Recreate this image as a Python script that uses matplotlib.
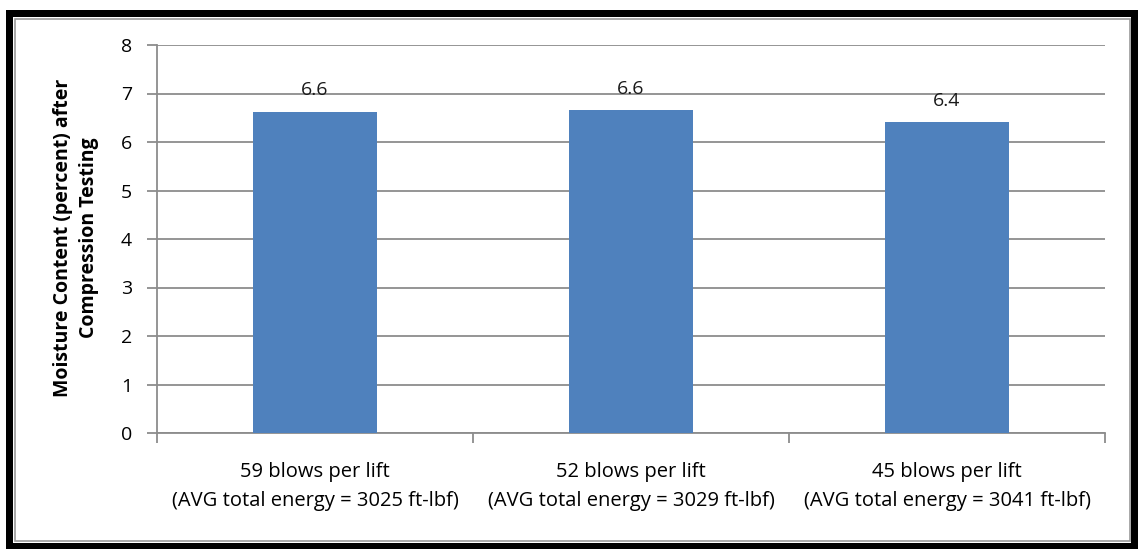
import matplotlib
matplotlib.use("Agg")
import matplotlib.pyplot as plt
from matplotlib.patches import Rectangle

# chart data
categories = ["59 blows per lift\n(AVG total energy = 3025 ft-lbf)",
              "52 blows per lift\n(AVG total energy = 3029 ft-lbf)",
              "45 blows per lift\n(AVG total energy = 3041 ft-lbf)"]
moisture = [6.62, 6.65, 6.41]
labels = ["6.6", "6.6", "6.4"]
y_ticks = [0, 1, 2, 3, 4, 5, 6, 7, 8]

W, H = 1138, 549
plt.rcParams["font.family"] = ["Open Sans", "DejaVu Sans"]

fig = plt.figure(figsize=(W / 100, H / 100), dpi=100)

def px_rect(x0, y0, x1, y1, **kw):
    # rectangle given in image pixel coords (top-left origin)
    return Rectangle((x0 / W, 1 - y1 / H), (x1 - x0) / W, (y1 - y0) / H,
                     transform=fig.transFigure, **kw)

# outer frame
fig.add_artist(px_rect(6, 10, 1138, 549, facecolor="black", edgecolor="none", zorder=0))
fig.add_artist(px_rect(13, 17, 1131, 543, facecolor="white", edgecolor="none", zorder=0))
fig.add_artist(px_rect(14.5, 18.5, 1129.5, 540.5, facecolor="none", edgecolor="#9a9a9a",
                       linewidth=1.2, zorder=0))

ax = fig.add_axes([157 / W, 1 - 433 / H, (1105 - 157) / W, (433 - 45) / H])
ax.set_facecolor("none")

x = range(len(categories))
ax.bar(x, moisture, width=0.39, color="#4F81BD", zorder=3)
for i, (v, lab) in enumerate(zip(moisture, labels)):
    ax.annotate(lab, (i, v), xytext=(0, 9), textcoords="offset points",
                ha="center", va="bottom", fontsize=14, color="#1a1a1a")

ax.set_xlim(-0.5, len(categories) - 0.5)
ax.set_ylim(0, 8)
ax.set_yticks(y_ticks)
ax.yaxis.grid(True, color="#8c8c8c", linewidth=1.3)
ax.set_axisbelow(True)

# category labels centered, ticks at boundaries
ax.set_xticks([i - 0.5 for i in range(len(categories) + 1)])
ax.set_xticklabels([])
ax.set_xticks(list(x), minor=True)
ax.set_xticklabels(categories, minor=True, fontsize=14.5, linespacing=1.6)
ax.tick_params(axis="x", which="minor", length=0, pad=21)
ax.tick_params(axis="x", which="major", length=7, color="#8c8c8c", width=1.3)
ax.tick_params(axis="y", length=7, color="#8c8c8c", width=1.3, labelsize=14, pad=11)

for s in ["top", "right"]:
    ax.spines[s].set_visible(False)
for s in ["left", "bottom"]:
    ax.spines[s].set_color("#8c8c8c")
    ax.spines[s].set_linewidth(1.3)

fig.text(76 / W, 1 - 238 / H, "Moisture Content (percent) after\nCompression Testing",
         rotation=90, ha="center", va="center", fontsize=14, fontweight="bold",
         linespacing=1.35)

fig.savefig("out.png", dpi=100)
